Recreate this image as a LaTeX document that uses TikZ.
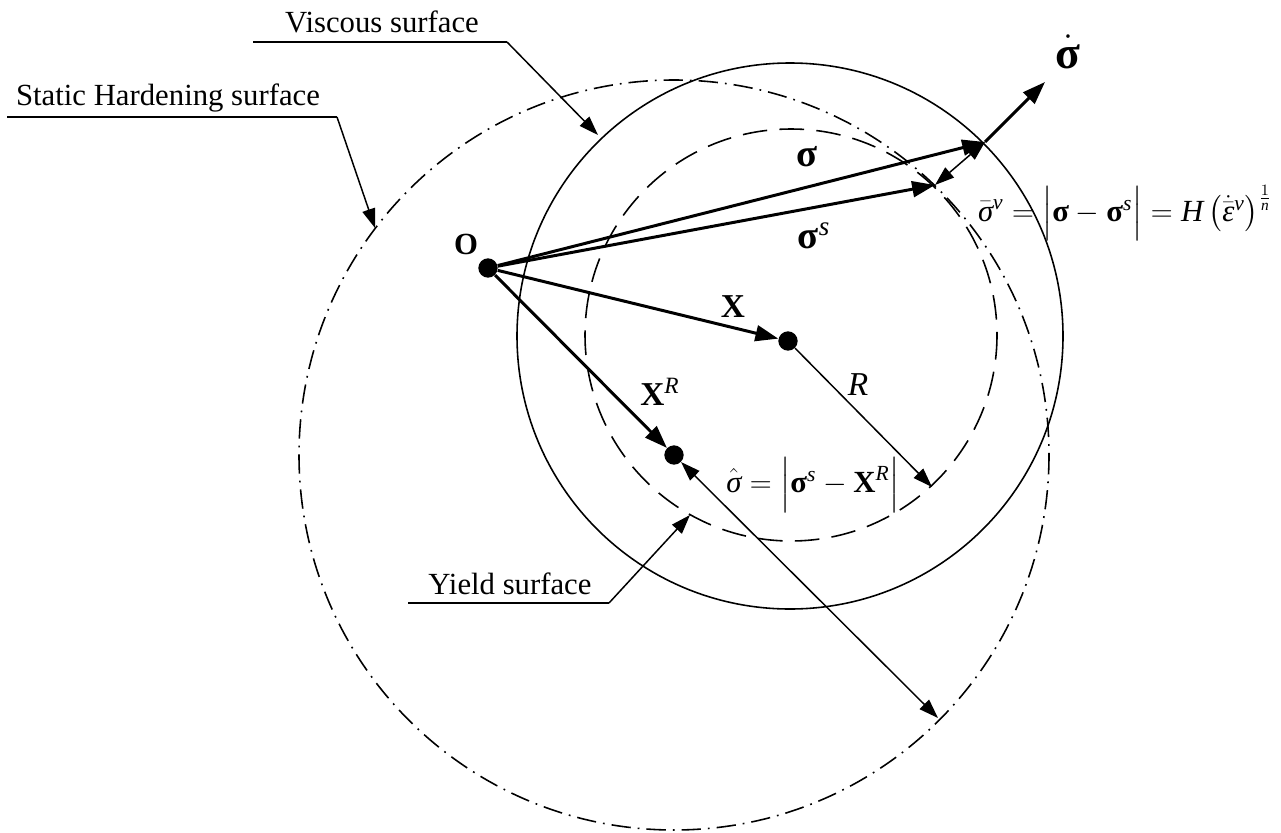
\documentclass[tikz,border=0pt]{standalone}
\usepackage{fontspec}
\setmainfont{Liberation Serif}
\usepackage{amsmath}
\usetikzlibrary{arrows.meta}
% upright bold / italic letters taken from the text font
\newcommand{\bsig}{\text{\bfseries σ}}
\newcommand{\bX}{\text{\bfseries X}}
\newcommand{\tv}[1]{\text{\itshape #1}}
\tikzset{
  % Surface outlines
  ViscC/.style={line width=0.9pt},
  YldC/.style={line width=0.9pt,dash pattern=on 14pt off 7pt},
  StatC/.style={line width=0.9pt,dash pattern=on 11pt off 4pt on 1pt off 4pt},
  % State points
  Pt/.style={circle,fill=black,inner sep=0pt,minimum size=11pt},
  % Labels
  Lbl/.style={font=\fontsize{17.5}{21}\selectfont,inner sep=0pt},
  % Arrows
  VArr/.style={-{Triangle[length=13pt,width=9pt]},line width=1.7pt},
  LArr/.style={-{Triangle[length=11pt,width=7.5pt]},line width=0.85pt},
  DArr/.style={{Triangle[length=11pt,width=7.5pt]}-{Triangle[length=11pt,width=7.5pt]},
               line width=0.85pt},
  Lead/.style={line width=0.85pt},
}

\begin{document}
\begin{tikzpicture}[x={(0.02cm,0)},y={(0,-0.02cm)}]
\useasboundingbox (0,0) rectangle (1281,832);
% ── Surfaces ─────────────────────────────
\draw[ViscC] (790,336) circle[radius=273];
\draw[YldC]  (791,335) circle[radius=206];
\draw[StatC] (674,455) circle[radius=375];
% ── State points ─────────────────────────
\node[Pt] at (488,268) (O)  {};
\node[Pt] at (788,341) (X)  {};
\node[Pt] at (674,455) (XR) {};
\coordinate (sig)  at (985,142);
\coordinate (sigs) at (935,185);
\coordinate (sigd) at (1045,82);
\coordinate (Rend) at (932,487);
\coordinate (hend) at (938,718);
% ── Vectors ──────────────────────────────
\draw[VArr] (O) -- (sig);
\draw[VArr] (O) -- (sigs);
\draw[VArr] (O) -- (X);
\draw[VArr] (O) -- (XR);
\draw[VArr] (sig) -- (sigd);
\draw[DArr] (sigs) -- (sig);
\draw[LArr] (X) -- (Rend);
\draw[DArr] (XR) -- (hend);
% ── Vector labels ────────────────────────
\node[Lbl,font=\fontsize{17.5}{21}\selectfont\bfseries] at (466,244) (Olbl) {O};
\node[Lbl,font=\fontsize{22}{26}\selectfont\bfseries] at (807,157) (siglbl) {σ};
\node[Lbl,font=\fontsize{22}{26}\selectfont] at (814,236) (sigslbl) {$\bsig^{\tv{s}}$};
\node[Lbl,font=\fontsize{26}{30}\selectfont] at (1068,52) (sigdlbl) {$\dot{\bsig}$};
\node[Lbl,font=\fontsize{19}{23}\selectfont\bfseries] at (733,307) (Xlbl) {X};
\node[Lbl,font=\fontsize{19}{23}\selectfont] at (660,392) (XRlbl) {$\bX^{\tv{R}}$};
\node[Lbl,font=\fontsize{19}{23}\selectfont\itshape] at (858,385) (Rlbl) {R};
\node[Lbl] at (813,485) (hatlbl)
  {$\hat{\tv{σ}}=\Bigl|\bsig^{\tv{s}}-\bX^{\tv{R}}\Bigr|$};
\node[Lbl] at (1125,213) (barlbl)
  {$\bar{\tv{σ}}^{\tv{v}}=\Bigl|\bsig-\bsig^{\tv{s}}\Bigr|
    =\tv{H}\left(\dot{\bar{\tv{ε}}}^{\tv{v}}\right)^{\frac{1}{\tv{n}}}$};
% ── Surface call-outs ────────────────────
\node[Lbl] at (382,22) (vislbl) {Viscous surface};
\coordinate (visA) at (253,42);
\coordinate (visB) at (507,42);
\coordinate (visT) at (598,135);
\draw[Lead] (visA) -- (visB);
\draw[LArr] (visB) -- (visT);
\node[Lbl] at (168,98) (statlbl) {Static Hardening surface};
\coordinate (statA) at (7,117);
\coordinate (statB) at (337,117);
\coordinate (statT) at (375,228);
\draw[Lead] (statA) -- (statB);
\draw[LArr] (statB) -- (statT);
\node[Lbl] at (510,584) (yldlbl) {Yield surface};
\coordinate (yldA) at (408,603);
\coordinate (yldB) at (609,603);
\coordinate (yldT) at (690,515);
\draw[Lead] (yldA) -- (yldB);
\draw[LArr] (yldB) -- (yldT);
\end{tikzpicture}
\end{document}
